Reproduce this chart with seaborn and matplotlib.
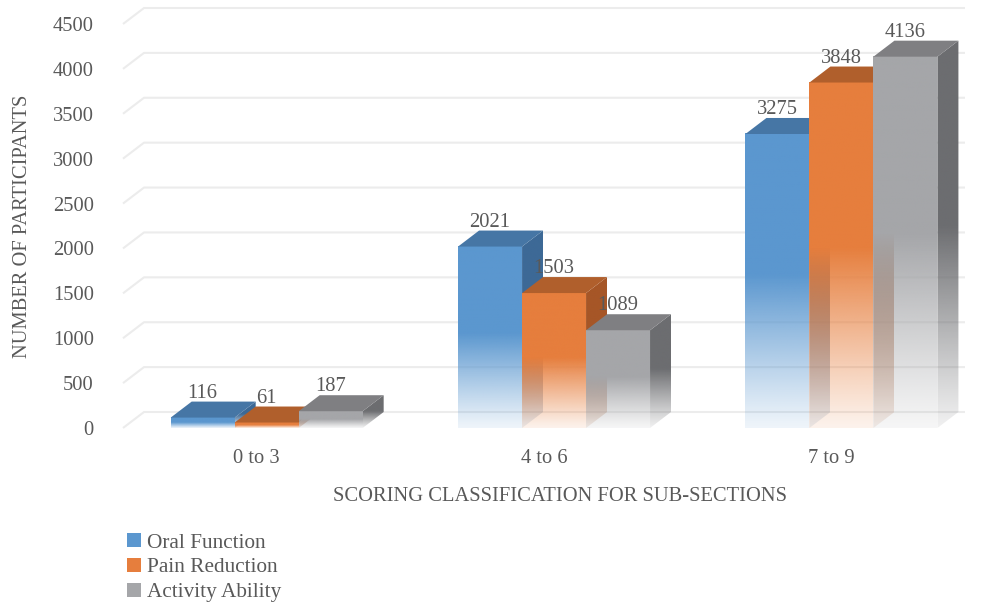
import numpy as np
import pandas as pd
import matplotlib
matplotlib.use("Agg")
import matplotlib.pyplot as plt
import matplotlib.transforms as mtransforms
import seaborn as sns
from matplotlib.patches import Polygon, Patch
from matplotlib.colors import to_rgb

# ---- data ----
categories = ["0 to 3", "4 to 6", "7 to 9"]
series_names = ["Oral Function", "Pain Reduction", "Activity Ability"]
oral_function = [116, 2021, 3275]
pain_reduction = [61, 1503, 3848]
activity_ability = [187, 1089, 4136]
y_ticks = [0, 500, 1000, 1500, 2000, 2500, 3000, 3500, 4000, 4500]

values = [oral_function, pain_reduction, activity_ability]
df = pd.DataFrame({
    "Category": [c for s in values for c in categories],
    "Series": [n for n, s in zip(series_names, values) for _ in s],
    "Participants": [v for s in values for v in s],
})

# ---- style ----
front_cols = ["#5b97cf", "#e67e3d", "#a5a6a9"]
top_cols = ["#4676a5", "#b05f2c", "#7f7f82"]
side_cols = ["#3d6996", "#a65627", "#6c6d70"]
TXT = "#595959"
GRID = "#ececec"
FONT = "Liberation Serif"
FS = 14.8
DX, DY = 21, 16  # depth offset in pixels

sns.set_theme(style="white")
plt.rcParams["font.family"] = [FONT, "DejaVu Serif"]

fig = plt.figure(figsize=(9.99, 6.08), dpi=100)
ax = fig.add_axes([123 / 999, 1 - 428 / 608, (965 - 123) / 999, (428 - 24) / 608])

sns.barplot(data=df, x="Category", y="Participants", hue="Series",
            palette=front_cols, width=0.668, saturation=1, errorbar=None,
            legend=False, ax=ax)

XLIM = (-0.5, 2.43)
YLIM = (0, 4500)
ax.set_xlim(*XLIM)
ax.set_ylim(*YLIM)

inv = ax.transData.inverted()
p0 = ax.transData.transform((0, 0))
dd = inv.transform(p0 + np.array([DX, DY]))
ddx, ddy = dd[0], dd[1]

# back-wall gridlines
for v in y_ticks:
    ax.plot([XLIM[0], XLIM[0] + ddx, XLIM[1]], [v, v + ddy, v + ddy],
            color=GRID, lw=1.5, zorder=1, clip_on=False,
            solid_capstyle="butt")

N = 256
t = np.linspace(1, 0, N)  # top -> bottom
alpha = np.clip(t / 0.52, 0, 1) ** 1.1 * 0.9 + 0.1


def grad_img(col):
    r, g, b = to_rgb(col)
    img = np.zeros((N, 1, 4))
    img[:, 0, 0] = r
    img[:, 0, 1] = g
    img[:, 0, 2] = b
    img[:, 0, 3] = alpha
    return img


for hi, cont in enumerate(ax.containers):
    z = 3 + hi
    for bar in cont:
        x0 = bar.get_x()
        w = bar.get_width()
        h = bar.get_height()
        bar.set_facecolor("none")
        bar.set_edgecolor("none")
        # front face
        ax.imshow(grad_img(front_cols[hi]), extent=[x0, x0 + w, 0, h],
                  aspect="auto", zorder=z, interpolation="bilinear")
        # top face
        top = Polygon([(x0, h), (x0 + w, h), (x0 + w + ddx, h + ddy), (x0 + ddx, h + ddy)],
                      closed=True, facecolor=top_cols[hi], edgecolor="none",
                      zorder=z + 0.1, clip_on=False)
        ax.add_patch(top)
        # side face
        side = Polygon([(x0 + w, 0), (x0 + w + ddx, ddy), (x0 + w + ddx, h + ddy), (x0 + w, h)],
                       closed=True, facecolor="none", edgecolor="none",
                       transform=ax.transData)
        ax.add_patch(side)
        im = ax.imshow(grad_img(side_cols[hi]), extent=[x0 + w, x0 + w + ddx, 0, h + ddy],
                       aspect="auto", zorder=z + 0.05, interpolation="bilinear")
        im.set_clip_path(side)
        # value label
        ax.annotate(f"{int(h)}", xy=(x0 + w / 2, h), xytext=(0, DY - 1),
                    textcoords="offset pixels", ha="center", va="bottom",
                    fontsize=FS, color=TXT, zorder=20)

ax.set_xlim(*XLIM)
ax.set_ylim(*YLIM)
ax.set_yticks(y_ticks)
ax.set_yticklabels([str(v) for v in y_ticks])
ax.tick_params(axis="y", length=0, pad=21, labelsize=FS, labelcolor=TXT)
ax.tick_params(axis="x", length=0, pad=15, labelsize=FS, labelcolor=TXT)
ax.grid(False)
for s in ax.spines.values():
    s.set_visible(False)

for lab in ax.get_xticklabels():
    lab.set_transform(lab.get_transform() + mtransforms.ScaledTranslation(-10 / 100, 0, fig.dpi_scale_trans))

ax.set_ylabel("NUMBER OF PARTICIPANTS", fontsize=FS, color=TXT)
ax.yaxis.set_label_coords(-0.108, 0.5)
ax.set_xlabel("SCORING CLASSIFICATION FOR SUB-SECTIONS", fontsize=FS, color=TXT)
ax.xaxis.set_label_coords(0.519, -0.145)

handles = [Patch(facecolor=c, edgecolor="none") for c in front_cols]
fig.legend(handles, series_names, loc="upper left",
           bbox_to_anchor=(127 / 999, 1 - 533 / 608), frameon=False,
           fontsize=15.3, labelcolor=TXT, handlelength=0.65, handleheight=0.65,
           handletextpad=0.3, labelspacing=0.25, borderpad=0, borderaxespad=0)

fig.savefig("out.png", dpi=100)
